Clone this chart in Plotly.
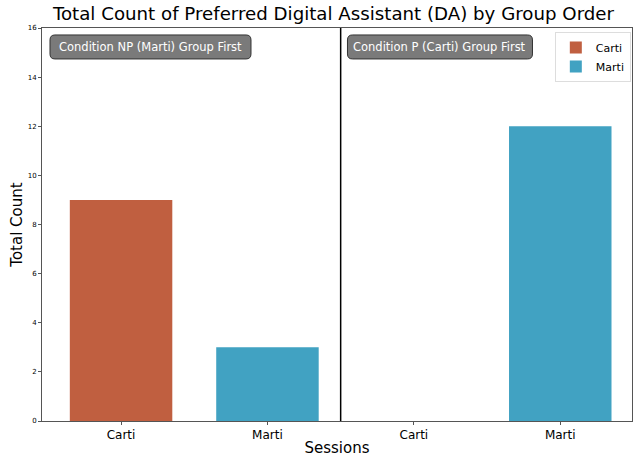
import plotly.graph_objects as go

categories = ["Carti", "Marti", "Carti", "Marti"]
carti_pos = [0, 2]
carti_vals = [9, 0]
marti_pos = [1, 3]
marti_vals = [3, 12]
y_ticks = [0, 2, 4, 6, 8, 10, 12, 14, 16]
labels = ["Condition NP (Marti) Group First", "Condition P (Carti) Group First"]

C_ORANGE = "#C05F40"
C_BLUE = "#41A2C2"

fig = go.Figure()
fig.add_trace(go.Bar(x=carti_pos, y=carti_vals, name="Carti", marker_color=C_ORANGE,
                     marker_line_width=0, width=0.7))
fig.add_trace(go.Bar(x=marti_pos, y=marti_vals, name="Marti", marker_color=C_BLUE,
                     marker_line_width=0, width=0.7))

W, H = 634, 457
L, R, T, B = 42, 1, 28, 34
PW, PH = W - L - R, H - T - B

fig.update_layout(
    width=W, height=H,
    margin=dict(l=L, r=R, t=T, b=B),
    paper_bgcolor="white", plot_bgcolor="white",
    font=dict(family="DejaVu Sans", color="black"),
    title=dict(text="Total Count of Preferred Digital Assistant (DA) by Group Order",
               x=0.526, xanchor="center", y=0.984, yanchor="top",
               font=dict(size=18.2)),
    barmode="overlay",
    showlegend=True,
    legend=dict(x=0.998, y=0.99, xanchor="right", yanchor="top",
                bgcolor="white", bordercolor="#dddddd", borderwidth=1,
                font=dict(size=11), itemwidth=30, tracegroupgap=0),
    xaxis=dict(range=[-0.54, 3.49], tickvals=[0, 1, 2, 3], ticktext=categories,
               showgrid=False, zeroline=False, showline=True, linecolor="#555555",
               linewidth=1, mirror=True, ticks="outside", ticklen=3, tickcolor="#555555",
               tickfont=dict(size=12),
               title=dict(text="Sessions", font=dict(size=15), standoff=3)),
    yaxis=dict(range=[0, 16], tickvals=y_ticks, showgrid=False, zeroline=False,
               showline=True, linecolor="#555555", linewidth=1, mirror=True,
               ticks="outside", ticklen=3, tickcolor="#555555",
               tickfont=dict(size=7),
               title=dict(text="Total Count", font=dict(size=15), standoff=1)),
)

fig.add_shape(type="line", x0=1.5, x1=1.5, y0=0, y1=1, xref="x", yref="paper",
              line=dict(color="black", width=1.5))


def rounded_path(w, h, r):
    return (f"M {r},0 L {w - r},0 Q {w},0 {w},{-r} L {w},{-h + r} Q {w},{-h} {w - r},{-h} "
            f"L {r},{-h} Q 0,{-h} 0,{-h + r} L 0,{-r} Q 0,0 {r},0 Z")


# box pixel geometry (left, top, width, height)
boxes = [(50, 35, 201, 24), (348, 35, 185, 24)]
for (bx, by, bw, bh), txt in zip(boxes, labels):
    ax = (bx - L) / PW
    ay = 1 - (by - T) / PH
    fig.add_shape(type="path", xref="paper", yref="paper",
                  xsizemode="pixel", ysizemode="pixel", xanchor=ax, yanchor=ay,
                  path=rounded_path(bw, bh, 5), fillcolor="#7a7a7a",
                  line=dict(color="#333333", width=1), layer="above")
    fig.add_annotation(x=(bx + bw / 2 - L) / PW, y=1 - (by + bh / 2 - T) / PH,
                       xref="paper", yref="paper", xanchor="center", yanchor="middle",
                       text=txt, showarrow=False, font=dict(size=11.5, color="white"))

fig.write_html("out.html", config={"displayModeBar": False},
               post_script="document.body.style.margin='0';document.body.style.overflow='hidden';")
